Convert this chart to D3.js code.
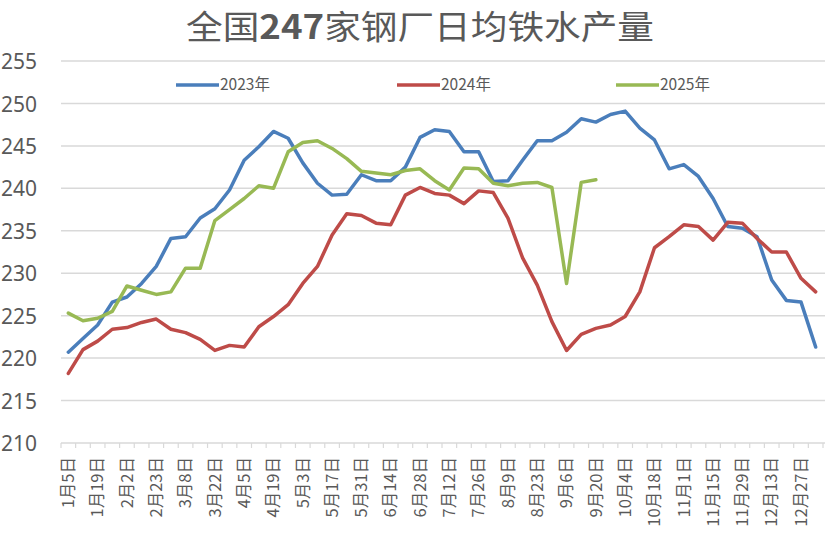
<!DOCTYPE html>
<html><head><meta charset="utf-8">
<script src="https://cdn.jsdelivr.net/npm/d3@7"></script>
<style>body{margin:0;background:#fff}svg{display:block}</style>
</head><body>
<svg id="c" width="834" height="536"></svg>
<script>
const title = "全国247家钢厂日均铁水产量";
const categories = ["1月5日","1月12日","1月19日","1月26日","2月2日","2月9日","2月23日","3月1日","3月8日","3月15日","3月22日","3月29日","4月5日","4月12日","4月19日","4月26日","5月3日","5月10日","5月17日","5月24日","5月31日","6月7日","6月14日","6月21日","6月28日","7月5日","7月12日","7月19日","7月26日","8月2日","8月9日","8月16日","8月23日","8月30日","9月6日","9月13日","9月20日","9月27日","10月4日","10月11日","10月18日","10月25日","11月1日","11月8日","11月15日","11月22日","11月29日","12月6日","12月13日","12月20日","12月27日","1月3日"];
const seriesNames = ["2023年","2024年","2025年"];
const s2023 = [220.7,222.3,223.9,226.6,227.2,228.8,230.8,234.1,234.3,236.5,237.6,239.8,243.3,244.9,246.7,245.9,243.0,240.6,239.2,239.3,241.6,240.9,240.9,242.5,246.0,246.9,246.7,244.3,244.3,240.8,240.9,243.3,245.6,245.6,246.6,248.2,247.8,248.7,249.1,247.1,245.7,242.3,242.8,241.4,238.8,235.5,235.3,234.3,229.2,226.8,226.6,221.3];
const s2024 = [218.2,221.0,222.0,223.4,223.6,224.2,224.6,223.4,223.0,222.2,220.9,221.5,221.3,223.7,224.9,226.3,228.8,230.8,234.5,237.0,236.8,235.9,235.7,239.2,240.1,239.4,239.2,238.2,239.7,239.5,236.5,231.8,228.6,224.3,220.9,222.8,223.5,223.9,224.9,227.8,233.0,234.3,235.7,235.5,233.9,236.0,235.9,234.1,232.5,232.5,229.4,227.8];
const s2025 = [225.3,224.4,224.7,225.5,228.5,228.0,227.5,227.8,230.6,230.6,236.2,237.5,238.8,240.3,240.0,244.3,245.4,245.6,244.7,243.5,242.0,241.8,241.6,242.1,242.3,240.9,239.8,242.4,242.3,240.6,240.3,240.6,240.7,240.1,228.8,240.7,241.0];
const yTicks = [210,215,220,225,230,235,240,245,250,255];
const colors = ["#4a7ebb","#be4b48","#98b954"];

const svg = d3.select("#c");
const x = d3.scaleBand().domain(categories).range([61, 823]).padding(0);
const y = d3.scaleLinear().domain([210,255]).range([443, 61]);
const grey = "#595959";

// title
svg.append("text").attr("x", 420).attr("y", 39).attr("text-anchor","middle")
  .attr("font-family","'Noto Sans CJK SC', sans-serif").attr("font-size", 33)
  .attr("fill", grey).attr("textLength", 468).attr("lengthAdjust","spacingAndGlyphs")
  .selectAll("tspan").data(["全国","247","家钢厂日均铁水产量"]).join("tspan")
  .attr("font-weight", (d,i)=> i===1 ? "bold" : "normal").text(d=>d);

// gridlines
svg.append("g").selectAll("line").data(yTicks.filter(t=>t!==210)).join("line")
  .attr("x1", 61).attr("x2", 825).attr("y1", d=>y(d)).attr("y2", d=>y(d))
  .attr("stroke", "#d9d9d9").attr("stroke-width", 1.5);

// y labels
const yAxis = d3.axisLeft(y).tickValues(yTicks).tickSize(0).tickPadding(0);
const yg = svg.append("g").attr("transform","translate(37,0)").call(yAxis);
yg.select(".domain").remove();
yg.selectAll("text").attr("font-family","'Noto Sans', sans-serif").attr("font-size", 21)
  .attr("fill", grey).attr("dy","0.36em");

// x axis line + ticks at band boundaries
svg.append("line").attr("x1",61).attr("x2",825).attr("y1",y(210)).attr("y2",y(210))
  .attr("stroke","#d9d9d9").attr("stroke-width",1.5);
const edges = categories.map(c=>x(c)).concat([x(categories[categories.length-1]) + x.bandwidth()]);
svg.append("g").selectAll("line").data(edges).join("line")
  .attr("x1", d=>d).attr("x2", d=>d).attr("y1", y(210)).attr("y2", y(210)+5)
  .attr("stroke","#d9d9d9").attr("stroke-width",1.2);

// x labels
const xAxis = d3.axisBottom(x).tickValues(categories.filter((c,i)=>i%2===0)).tickSize(0).tickPadding(0);
const xg = svg.append("g").attr("transform", `translate(0,${y(210)})`).call(xAxis);
xg.select(".domain").remove();
xg.selectAll("text").attr("font-family","'Noto Sans CJK SC', sans-serif").attr("font-size", 16.5)
  .attr("fill", grey).attr("text-anchor","end")
  .attr("transform","rotate(-90)").attr("x",-14).attr("y",0).attr("dy","0.35em");

// lines
const line = d3.line().x((d,i)=> x(categories[i]) + x.bandwidth()/2).y(d=>y(d));
[s2023, s2024, s2025].forEach((s,k)=>{
  svg.append("path").datum(s).attr("d", line).attr("fill","none")
    .attr("stroke", colors[k]).attr("stroke-width", 3.5)
    .attr("stroke-linejoin","round").attr("stroke-linecap","round");
});

// legend
const legX = [176, 397, 616];
seriesNames.forEach((n,k)=>{
  svg.append("line").attr("x1", legX[k]).attr("x2", legX[k]+43).attr("y1", 85).attr("y2", 85)
    .attr("stroke", colors[k]).attr("stroke-width", 3.5);
  svg.append("text").attr("x", legX[k]+44).attr("y", 85).attr("dy","0.35em")
    .attr("font-family","'Noto Sans CJK SC', sans-serif").attr("font-size", 15.5)
    .attr("fill", grey).text(n);
});
</script>
</body></html>
